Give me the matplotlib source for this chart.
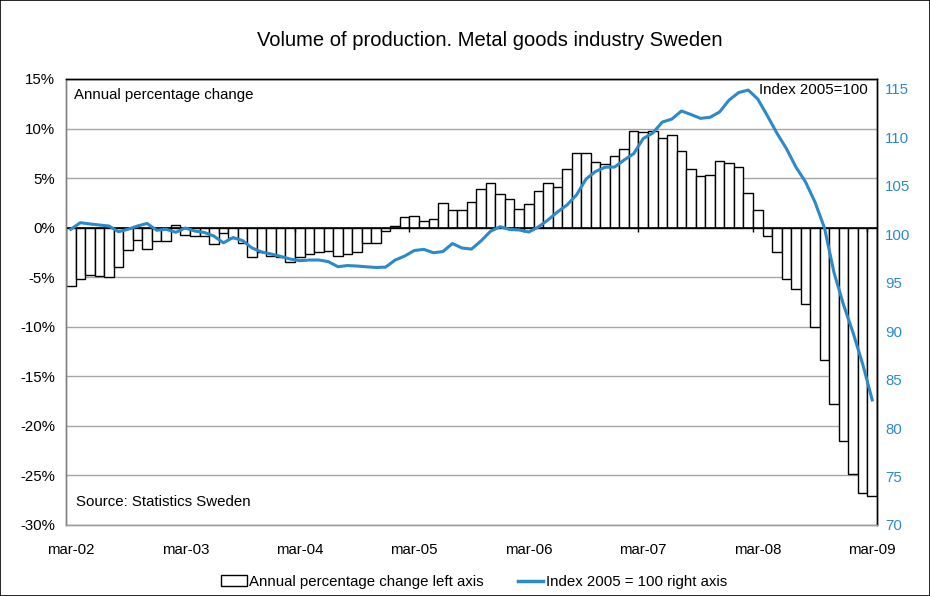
import matplotlib
matplotlib.use("Agg")
import matplotlib.pyplot as plt
from matplotlib.patches import Patch, Rectangle
from matplotlib.lines import Line2D
import numpy as np

plt.rcParams['font.family'] = ['Liberation Sans', 'DejaVu Sans']

# Monthly data, mar-02 .. mar-09
years = ['02', '03', '04', '05', '06', '07', '08', '09']
tick_labels = ['mar-' + y for y in years]

annual_change = [
    -5.9, -5.15, -4.75, -4.85, -4.98, -3.94, -2.25, -1.24, -2.15, -1.3, -1.38, 0.27,
    -0.7, -0.84, -0.84, -1.6, -0.57, -1.0, -1.5, -3.0, -2.5, -2.9, -3.0, -3.43,
    -3.0, -2.7, -2.5, -2.35, -2.83, -2.7, -2.5, -1.5, -1.5, -0.37, 0.13, 1.1,
    1.18, 0.7, 0.9, 2.46, 1.75, 1.75, 2.56, 3.94, 4.48, 3.37, 2.87, 1.92,
    2.36, 3.74, 4.55, 4.14, 5.93, 7.55, 7.55, 6.64, 6.4, 7.2, 7.9, 9.77,
    9.67, 9.73, 9.03, 9.4, 7.78, 5.96, 5.25, 5.32, 6.7, 6.53, 6.1, 3.45,
    1.8, -0.8, -2.45, -5.2, -6.15, -7.75, -10.05, -13.4, -17.75, -21.5, -24.85, -26.8,
    -27.1,
]

index_2005 = [
    100.5, 101.18, 101.05, 100.94, 100.84, 100.25, 100.5, 100.84, 101.1, 100.4, 100.5, 100.19,
    100.63, 100.32, 100.17, 99.8, 99.1, 99.65, 99.34, 98.57, 98.16, 97.95, 97.7, 97.43,
    97.26, 97.33, 97.33, 97.16, 96.64, 96.76, 96.71, 96.63, 96.56, 96.6, 97.33, 97.74,
    98.31, 98.43, 98.08, 98.2, 99.03, 98.57, 98.46, 99.3, 100.3, 100.77, 100.48, 100.43,
    100.22, 100.73, 101.45, 102.28, 103.0, 104.03, 105.68, 106.46, 106.9, 106.92, 107.65, 108.3,
    109.86, 110.43, 111.56, 111.87, 112.7, 112.34, 111.94, 112.05, 112.6, 113.83, 114.6, 114.86,
    113.94, 112.23, 110.43, 108.83, 106.92, 105.4, 103.31, 100.63, 96.0, 92.69, 89.8, 86.6,
    82.9,
]

left_ticks = [15, 10, 5, 0, -5, -10, -15, -20, -25, -30]
right_ticks = [115, 110, 105, 100, 95, 90, 85, 80, 75, 70]

n = len(annual_change)
x = np.arange(n)
fs = 10.8
blue = '#2c8ac8'

fig = plt.figure(figsize=(9.3, 5.96), dpi=100)
fig.patches.append(Rectangle((0, 0), 1, 1, transform=fig.transFigure, fill=False,
                             edgecolor='black', linewidth=1.2))
ax = fig.add_axes([66/930, 1-525/596, 811/930, 446/596])
ax2 = ax.twinx()

# gridlines
for t in left_ticks:
    if t != 0:
        ax.axhline(t, color='#a6a6a6', linewidth=1.0, zorder=0)

ax.bar(x, annual_change, width=1.0, color='white', edgecolor='black', linewidth=1.0, zorder=2)
ax.axhline(0, color='black', linewidth=1.2, zorder=3)
# category tick marks at year boundaries on the zero line
bounds = np.arange(12, n, 12) - 0.5
ax.vlines(bounds, -0.45, 0, color='black', linewidth=1.0, zorder=3)

ax.set_xlim(-0.5, n - 0.5)
ax.set_ylim(-30, 15)
ax.set_yticks(left_ticks)
ax.set_yticklabels([f'{t}%' for t in left_ticks], fontsize=fs)
ax.set_xticks(x[::12])
ax.set_xticklabels(tick_labels, fontsize=fs)
ax.tick_params(axis='x', length=0, pad=13)
ax.tick_params(axis='y', length=0, pad=8)

ax2.plot(x, index_2005, color=blue, linewidth=2.2, zorder=5)
ax2.set_ylim(70, 116)
ax2.set_yticks(right_ticks)
ax2.set_yticklabels([str(t) for t in right_ticks], fontsize=fs, color=blue)
ax2.tick_params(axis='y', length=0, pad=6)

for a in (ax, ax2):
    a.spines['top'].set_color('black')
    a.spines['right'].set_color('black')
    a.spines['left'].set_color('#808080')
    a.spines['bottom'].set_color('#a0a0a0')
    for s in a.spines.values():
        s.set_linewidth(1.0)

ax2.text(0.01, 0.965, 'Annual percentage change', transform=ax.transAxes,
         fontsize=fs, ha='left', va='center')
ax2.text(0.988, 0.976, 'Index 2005=100', transform=ax.transAxes,
         fontsize=fs, ha='right', va='center')
ax2.text(0.012, 0.052, 'Source: Statistics Sweden', transform=ax.transAxes,
         fontsize=fs, ha='left', va='center')

fig.text(490/930, 1-40/596, 'Volume of production. Metal goods industry Sweden',
         fontsize=14.5, ha='center', va='center')

handles = [Patch(facecolor='white', edgecolor='black', linewidth=1.0),
           Line2D([0], [0], color=blue, linewidth=2.5)]
fig.legend(handles, ['Annual percentage change left axis', 'Index 2005 = 100 right axis'],
           loc='center', bbox_to_anchor=(474/930, 1-582/596), ncol=2, frameon=False,
           fontsize=fs, handlelength=1.7, handleheight=0.75, handletextpad=0.15,
           columnspacing=2.3)

fig.savefig('out.png', dpi=100)
